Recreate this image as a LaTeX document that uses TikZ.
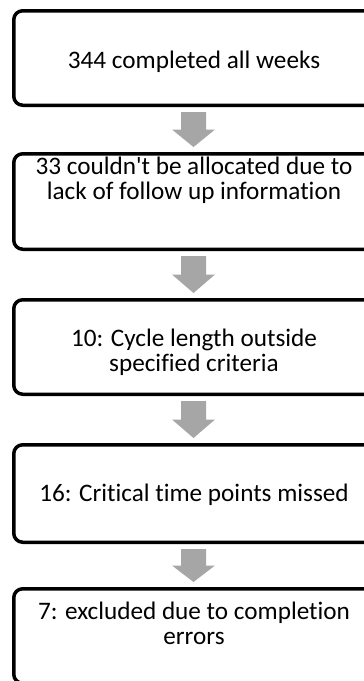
\documentclass[tikz,border=0pt]{standalone}
\usepackage{fontspec}
\setmainfont[RawFeature=-liga]{Carlito}
\usetikzlibrary{calc}
\definecolor{arrowgray}{HTML}{A6A6A6}
\tikzset{
  x=1pt, y=1pt,
  stagebox/.style={draw=black, line width=3.5pt, rounded corners=9pt,
    minimum width=359.5pt, inner sep=0pt, fill=white},
  stagetext/.style={align=center, inner sep=0pt, anchor=base,
    font=\fontsize{25.2}{24.5}\selectfont},
  blockarrow/.style={fill=arrowgray, draw=none, to path={
    let \p1=($(\tikztostart)+(0,-5)$), \p2=($(\tikztotarget)+(0,5)$),
        \n1={0.5*(\y1+\y2)} in
    (\x1-12.5pt,\y1) -- (\x1+12.5pt,\y1) -- (\x1+12.5pt,\n1)
    -- (\x1+21.5pt,\n1) -- (\x1,\y2) -- (\x1-21.5pt,\n1)
    -- (\x1-12.5pt,\n1) -- cycle}}
}
\begin{document}
\begin{tikzpicture}
\useasboundingbox (0,0) rectangle (364,-681);
\clip (0,0) rectangle (364,-681);
\fill[white] (0,0) rectangle (364,-681);

% stage boxes
\node[stagebox, minimum height=94.5pt] (b1) at (193.5,-58) {};
\node[stagebox, minimum height=95.5pt] (b2) at (193.5,-201.5) {};
\node[stagebox, minimum height=94.5pt] (b3) at (193.5,-347) {};
\node[stagebox, minimum height=97.5pt] (b4) at (193.5,-493.5) {};
\node[stagebox, minimum height=94.5pt] (b5) at (193.5,-636) {};

% stage texts (anchored at the baseline of the last line)
\node[stagetext] (t1) at (194,-68) {344 completed all weeks};
\node[stagetext] (t2) at (194,-199) {33 couldn\textquotesingle t be allocated due to\\lack of follow up information};
\node[stagetext] (t3) at (194,-371) {10: Cycle length outside\\specified criteria};
\node[stagetext] (t4) at (194,-501) {16: Critical time points missed};
\node[stagetext] (t5) at (194,-644) {7: excluded due to completion\\errors};

% block arrows between stages
\path[blockarrow] (b1.south) to (b2.north);
\path[blockarrow] (b2.south) to (b3.north);
\path[blockarrow] (b3.south) to (b4.north);
\path[blockarrow] (b4.south) to (b5.north);
\end{tikzpicture}
\end{document}
